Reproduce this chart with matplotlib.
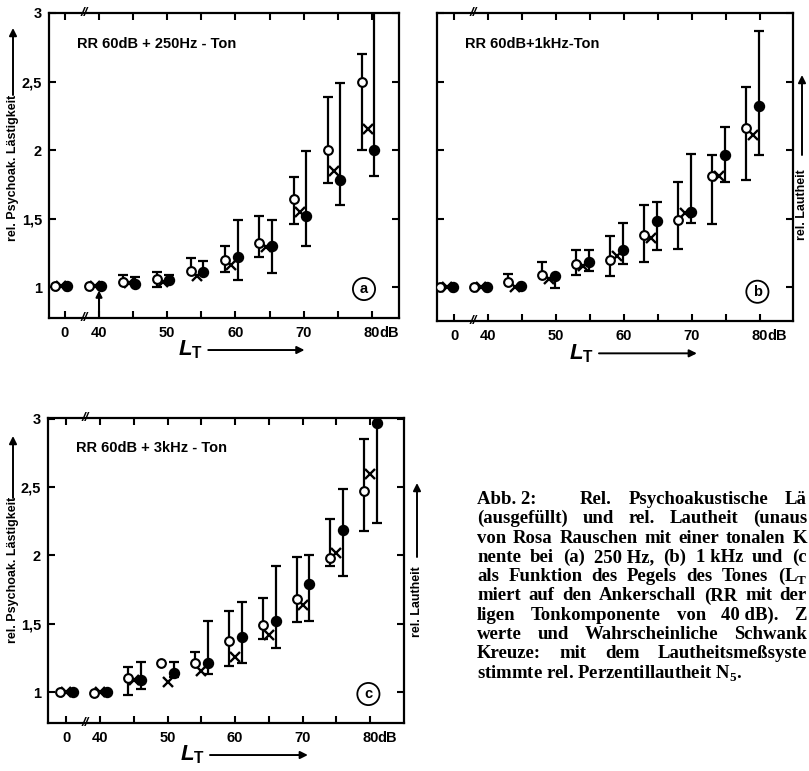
import numpy as np
import matplotlib
matplotlib.use('Agg')
import matplotlib.pyplot as plt
from matplotlib.transforms import blended_transform_factory

plt.rcParams['font.family'] = ['Liberation Sans', 'DejaVu Sans']
plt.rcParams['font.weight'] = 'bold'
plt.rcParams['mathtext.fontset'] = 'custom'
plt.rcParams['mathtext.it'] = 'Liberation Sans:italic:bold'
plt.rcParams['mathtext.rm'] = 'Liberation Sans:bold'
plt.rcParams['mathtext.bf'] = 'Liberation Serif:bold'

# tone level L_T in dB; 0 = anchor without tone, drawn left of the axis break
levels = [0, 40, 45, 50, 55, 60, 65, 70, 75, 80]
xtick_pos = [35, 40, 50, 60, 70, 80]
xtick_labels = ['0', '40', '50', '60', '70', '80']
ytick_vals = [1, 1.5, 2, 2.5, 3]
ytick_labels = ['1', '1,5', '2', '2,5', '3']

# (a) RR 60dB + 250Hz tone
a_open = [1.01, 1.01, 1.04, 1.06, 1.12, 1.20, 1.32, 1.64, 2.00, 2.50]
a_open_lo = [1.01, 1.01, 1.04, 1.00, 1.12, 1.11, 1.22, 1.46, 1.76, 2.00]
a_open_hi = [1.01, 1.01, 1.085, 1.11, 1.21, 1.30, 1.52, 1.80, 2.39, 2.70]
a_cross = [1.01, 1.01, 1.03, 1.04, 1.08, 1.16, 1.29, 1.55, 1.85, 2.15]
a_fill = [1.01, 1.01, 1.02, 1.05, 1.11, 1.22, 1.30, 1.52, 1.78, 2.00]
a_fill_lo = [1.01, 1.01, 1.02, 1.05, 1.11, 1.05, 1.10, 1.30, 1.60, 1.81]
a_fill_hi = [1.01, 1.01, 1.07, 1.085, 1.19, 1.49, 1.49, 1.99, 2.49, 3.10]

# (b) RR 60dB + 1kHz tone
b_open = [1.00, 1.00, 1.04, 1.09, 1.17, 1.20, 1.38, 1.49, 1.81, 2.16]
b_open_lo = [1.00, 1.00, 1.04, 1.09, 1.09, 1.08, 1.18, 1.28, 1.46, 1.78]
b_open_hi = [1.00, 1.00, 1.095, 1.18, 1.27, 1.37, 1.60, 1.77, 1.96, 2.46]
b_cross = [1.00, 1.00, 1.00, 1.06, 1.15, 1.23, 1.36, 1.54, 1.81, 2.11]
b_fill = [1.00, 1.00, 1.01, 1.08, 1.185, 1.27, 1.48, 1.55, 1.96, 2.32]
b_fill_lo = [1.00, 1.00, 1.01, 0.99, 1.12, 1.17, 1.27, 1.47, 1.77, 1.96]
b_fill_hi = [1.00, 1.00, 1.01, 1.08, 1.27, 1.465, 1.62, 1.97, 2.17, 2.87]

# (c) RR 60dB + 3kHz tone
c_open = [1.00, 0.99, 1.10, 1.21, 1.21, 1.37, 1.49, 1.68, 1.98, 2.47]
c_open_lo = [1.00, 0.99, 0.98, 1.21, 1.21, 1.19, 1.385, 1.51, 1.92, 2.18]
c_open_hi = [1.00, 0.99, 1.18, 1.21, 1.29, 1.59, 1.69, 1.99, 2.27, 2.85]
c_cross = [1.00, 1.00, 1.09, 1.075, 1.155, 1.26, 1.42, 1.635, 2.02, 2.60]
c_fill = [1.00, 1.00, 1.09, 1.14, 1.21, 1.40, 1.52, 1.79, 2.19, 2.97]
c_fill_lo = [1.00, 1.00, 1.02, 1.11, 1.13, 1.21, 1.32, 1.52, 1.85, 2.24]
c_fill_hi = [1.00, 1.00, 1.22, 1.22, 1.52, 1.66, 1.92, 2.00, 2.49, 3.10]

caption = [
    ['Rel.', 'Psychoakustische', 'Lä'],
    ['(ausgefüllt)', 'und', 'rel.', 'Lautheit', '(unaus'],
    ['von', 'Rosa', 'Rauschen', 'mit', 'einer', 'tonalen', 'K'],
    ['nente', 'bei', '(a)', '250 Hz,', '(b)', '1 kHz', 'und', '(c'],
    ['als', 'Funktion', 'des', 'Pegels', 'des', 'Tones', '(L$_\\mathbf{T}$'],
    ['miert', 'auf', 'den', 'Ankerschall', '(RR', 'mit', 'der'],
    ['ligen', 'Tonkomponente', 'von', '40 dB).', 'Z'],
    ['werte', 'und', 'Wahrscheinliche', 'Schwank'],
    ['Kreuze:', 'mit', 'dem', 'Lautheitsmeßsyste'],
]
caption_last = 'stimmte rel. Perzentillautheit N$_\\mathbf{5}$.'

W, H = 809, 771
fig = plt.figure(figsize=(W / 100, H / 100), dpi=100)


def px_axes(left, top, right, bottom):
    return fig.add_axes([left / W, 1 - bottom / H, (right - left) / W, (bottom - top) / H])


def fig_arrow(x0, y0, x1, y1):
    fig.add_artist(matplotlib.patches.FancyArrowPatch(
        (x0 / W, 1 - y0 / H), (x1 / W, 1 - y1 / H), transform=fig.transFigure,
        arrowstyle='-|>', mutation_scale=11, lw=1.4, color='black',
        shrinkA=0, shrinkB=0))


def bars(ax, x, y, ends):
    y, ends = np.asarray(y), np.asarray(ends)
    m = np.abs(ends - y) > 0.004
    ax.vlines(x[m], y[m], ends[m], color='black', lw=1.6, zorder=2)
    ax.plot(x[m], ends[m], ls='none', marker='_', ms=7, mew=1.6, color='black', zorder=2)


def panel(ax, op, op_lo, op_hi, cr, fi, fi_lo, fi_hi, offs, xlim, ylim,
          title, letter, ylabels=True):
    x = np.array(levels, float)
    x[x == 0] = 35.0
    xo, xc, xf = x + offs[0], x + offs[1], x + offs[2]
    bars(ax, xo, op, op_lo)
    bars(ax, xo, op, op_hi)
    bars(ax, xf, fi, fi_lo)
    bars(ax, xf, fi, fi_hi)
    ax.plot(xc, cr, ls='none', marker='x', ms=7.5, mew=1.7, color='black', zorder=3)
    ax.plot(xo, op, ls='none', marker='o', ms=6.3, mew=1.5, mfc='white', mec='black', zorder=4)
    ax.plot(xf, fi, ls='none', marker='o', ms=7.2, color='black', zorder=5)

    ax.set_xlim(*xlim)
    ax.set_ylim(*ylim)
    ax.set_xticks(xtick_pos)
    ax.set_xticklabels(xtick_labels)
    ax.set_xticks([45, 55, 65, 75], minor=True)
    ax.set_yticks(ytick_vals)
    if ylabels:
        ax.set_yticklabels(ytick_labels)
    else:
        ax.set_yticklabels([])
    ax.tick_params(which='both', direction='in', top=True, right=True,
                   length=5, width=1.5, labelsize=10.5)
    ax.tick_params(axis='x', pad=6)
    ax.tick_params(axis='y', pad=5)
    for s in ax.spines.values():
        s.set_linewidth(1.6)

    trans = blended_transform_factory(ax.transData, ax.transAxes)
    ax.annotate('dB', xy=(80, 0), xycoords=trans, xytext=(5.5, -6),
                textcoords='offset points', ha='left', va='top', fontsize=10.5)
    # axis break marks on the top and bottom spines
    for yy in (0, 1):
        ax.text(37.8, yy, '//', transform=trans, ha='center', va='center',
                fontsize=9.5, fontstyle='italic', clip_on=False)

    ax.text(0.08, 0.9, title, transform=ax.transAxes, fontsize=10.5, va='center')
    ax.text(0.9, 0.095, letter, transform=ax.transAxes, ha='center', va='center',
            fontsize=10.5, bbox=dict(boxstyle='circle,pad=0.28', fc='white', ec='black', lw=1.3))

    ax.text(0.405, -0.105, r'$L_\mathrm{T}$', transform=ax.transAxes,
            ha='center', va='center', fontsize=16)
    ax.annotate('', xy=(0.73, -0.105), xytext=(0.455, -0.105), xycoords='axes fraction',
                textcoords='axes fraction', annotation_clip=False,
                arrowprops=dict(arrowstyle='-|>', mutation_scale=11, lw=1.4, color='black',
                                shrinkA=0, shrinkB=0))


ax_a = px_axes(49, 13, 399, 318)
panel(ax_a, a_open, a_open_lo, a_open_hi, a_cross, a_fill, a_fill_lo, a_fill_hi,
      (-1.5, -0.6, 0.3), (32.67, 83.96), (0.774, 3.0), 'RR 60dB + 250Hz - Ton', 'a')
ax_a.annotate('', xy=(40, 0.975), xytext=(40, 0.774),
              arrowprops=dict(arrowstyle='-|>', mutation_scale=9, lw=1.5, color='black',
                              shrinkA=0, shrinkB=0))

ax_b = px_axes(437, 13, 793, 321)
panel(ax_b, b_open, b_open_lo, b_open_hi, b_cross, b_fill, b_fill_lo, b_fill_hi,
      (-2.0, -1.0, -0.1), (32.5, 84.85), (0.752, 3.0), 'RR 60dB+1kHz-Ton', 'b',
      ylabels=False)

ax_c = px_axes(48, 418, 404, 723)
panel(ax_c, c_open, c_open_lo, c_open_hi, c_cross, c_fill, c_fill_lo, c_fill_hi,
      (-0.9, 0.0, 1.0), (32.3, 85.0), (0.773, 3.007), 'RR 60dB + 3kHz - Ton', 'c')

# axis titles with arrows
for (x, yc, a0, a1) in [(13, 168, 95, 28), (13, 570, 498, 436)]:
    fig.text(x / W, 1 - yc / H, 'rel. Psychoak. Lästigkeit', rotation=90,
             ha='center', va='center', fontsize=9)
    fig_arrow(x, a0, x, a1)
for (x, yc, a0, a1) in [(802, 205, 155, 75), (417, 602, 557, 483)]:
    fig.text(x / W, 1 - yc / H, 'rel. Lautheit', rotation=90,
             ha='center', va='center', fontsize=9)
    fig_arrow(x, a0, x, a1)

# caption, justified lines running up to the right edge
renderer = fig.canvas.get_renderer()
cap_kw = dict(family='Liberation Serif', fontweight='bold', fontsize=13.5, va='baseline')
row0, step = 504, 19.3
x_left, x_right = 477, 807


def justify(words, ybase, x0, x1):
    ts = [fig.text(0, 1 - ybase / H, w, **cap_kw) for w in words]
    widths = [t.get_window_extent(renderer).width for t in ts]
    gap = (x1 - x0 - sum(widths)) / max(len(words) - 1, 1)
    x = x0
    for t, w in zip(ts, widths):
        t.set_x(x / W)
        x += w + gap


fig.text(x_left / W, 1 - row0 / H, 'Abb. 2:', **cap_kw)
justify(caption[0], row0, 580, x_right)
for i, words in enumerate(caption[1:], start=1):
    justify(words, row0 + i * step, x_left, x_right)
fig.text(x_left / W, 1 - (row0 + 9 * step) / H, caption_last, **cap_kw)

fig.savefig('out.png', dpi=100)
